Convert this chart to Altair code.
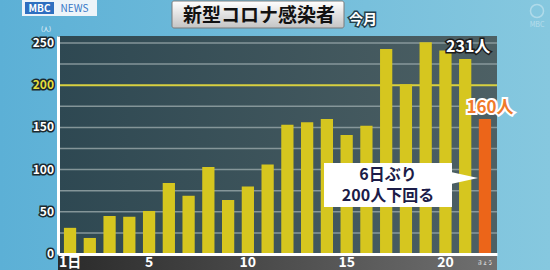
import altair as alt
import pandas as pd

# ---- data ----
days = [1, 2, 3, 4, 5, 6, 7, 8, 9, 10, 11, 12, 13, 14, 15, 16, 17, 18, 19, 20, 21, 22]
cases = [31, 19, 45, 44, 51, 84, 69, 103, 64, 80, 106, 153, 156, 160, 141, 152, 243, 201, 251, 241, 231, 160]
kinds = ["past"] * 21 + ["today"]
y_ticks = [0, 50, 100, 150, 200, 250]
grid_vals = [25, 50, 75, 100, 125, 150, 175, 225, 250]
highlight_val = [200]
title_text = "新型コロナ感染者"
subtitle_text = "今月"
note_lines = ["6日ぶり", "200人下回る"]

FONT = "Noto Sans CJK JP"
YELLOW = "#d6c61f"
ORANGE = "#ec6519"
W, H = 439, 218
YMAX = 258.3

df = pd.DataFrame({"day": days, "cases": cases, "kind": kinds})
one = pd.DataFrame({"a": [0]})

xscale = alt.Scale(paddingInner=0.38, paddingOuter=0.30)
yscale = alt.Scale(domain=[0, YMAX], nice=False)


def grad(c1, c2, vertical=False):
    return alt.Gradient(
        gradient="linear",
        stops=[alt.GradientStop(color=c1, offset=0), alt.GradientStop(color=c2, offset=1)],
        x1=0, x2=0 if vertical else 1, y1=0, y2=1 if vertical else 0,
    )


def pix_rect(x, x2, y, y2, **kw):
    return alt.Chart(one).mark_rect(**kw).encode(
        x=alt.value(x), x2=alt.value(x2), y=alt.value(y), y2=alt.value(y2))


def pix_text(x, y, text, **kw):
    return alt.Chart(one).mark_text(text=text, font=FONT, **kw).encode(
        x=alt.value(x), y=alt.value(y))


# backgrounds
page_bg = pix_rect(-58, 492, -36, 234, color=grad("#5cb0d6", "#86c8df"))
plot_bg = pix_rect(0, W, 0, H, color=grad("#2e4852", "#4d6064"))
xband = pix_rect(0, W, 219, 236, color=grad("#2a2a2a", "#707070"))

grid = alt.Chart(pd.DataFrame({"v": grid_vals})).mark_rule(
    color="#93a2a4", strokeWidth=1.5, opacity=0.85).encode(
    y=alt.Y("v:Q", scale=yscale), x=alt.value(0), x2=alt.value(W))
hline = alt.Chart(pd.DataFrame({"v": highlight_val})).mark_rule(
    color="#d8d040", strokeWidth=2).encode(
    y=alt.Y("v:Q", scale=yscale), x=alt.value(0), x2=alt.value(W))

bars = alt.Chart(df).mark_bar().encode(
    x=alt.X("day:O", scale=xscale, title=None,
            axis=alt.Axis(labelExpr="datum.value == 1 ? '1日' : (datum.value % 5 == 0 ? '' + datum.value : '')",
                          labelColor="white", labelFontSize=14, labelFont=FONT, labelFontWeight="bold",
                          ticks=False, domainColor="white", domainWidth=3, labelPadding=1,
                          labelAngle=0, zindex=1)),
    y=alt.Y("cases:Q", scale=yscale, title=None,
            axis=alt.Axis(labels=False, ticks=False, grid=False, domainColor="white",
                          domainWidth=3, zindex=1)),
    color=alt.Color("kind:N", scale=alt.Scale(domain=["past", "today"], range=[YELLOW, ORANGE]),
                    legend=None),
)

# value labels on last two bars
peak = df[df["day"] == 21]
today = df[df["day"] == 22]
peak_lbl = peak.assign(label=[f"{v}人" for v in peak["cases"]])
today_lbl = today.assign(label=[f"{v}人" for v in today["cases"]])

peak_stroke = alt.Chart(peak_lbl).mark_text(font=FONT, fontSize=16, fontWeight="bold", dy=-12, dx=3,
                                            stroke="#1a1a1a", strokeWidth=3, fill="#1a1a1a").encode(
    x="day:O", y="cases:Q", text="label:N")
peak_fill = alt.Chart(peak_lbl).mark_text(font=FONT, fontSize=16, fontWeight="bold", dy=-12, dx=3,
                                          fill="white").encode(x="day:O", y="cases:Q", text="label:N")
today_stroke = alt.Chart(today_lbl).mark_text(font=FONT, fontSize=17, fontWeight="bold", dy=-11, dx=5,
                                              stroke="white", strokeWidth=4, fill="white").encode(
    x="day:O", y="cases:Q", text="label:N")
today_fill = alt.Chart(today_lbl).mark_text(font=FONT, fontSize=17, fontWeight="bold", dy=-11, dx=5,
                                            fill="#f07a2a").encode(x="day:O", y="cases:Q", text="label:N")

# y tick labels with outline
tick_df = pd.DataFrame({"v": y_ticks})
ytl_stroke = alt.Chart(tick_df).mark_text(font=FONT, fontSize=12, fontWeight="bold", align="right",
                                          baseline="middle", dx=-4, stroke="#1c2a30", strokeWidth=3,
                                          fill="#1c2a30").encode(
    y=alt.Y("v:Q", scale=yscale), x=alt.value(0), text="v:Q")
ytl_fill = alt.Chart(tick_df).mark_text(font=FONT, fontSize=12, fontWeight="bold", align="right",
                                        baseline="middle", dx=-4).encode(
    y=alt.Y("v:Q", scale=yscale), x=alt.value(0), text="v:Q",
    color=alt.condition("datum.v == 200", alt.value("#e6de3c"), alt.value("white")))
unit = pix_text(-12, -7.5, "(人)", fontSize=6, color="white", baseline="middle")

# title box
title_box = pix_rect(114, 286, -35, -8, color=grad("#ffffff", "#c4c4c4", vertical=True),
                     stroke="#7a7a7a", strokeWidth=1, cornerRadius=2)
title = pix_text(201, -20.5, title_text, fontSize=19, fontWeight="bold", color="#111111", baseline="middle")
sub_stroke = pix_text(305, -16, subtitle_text, fontSize=14, fontWeight="bold", baseline="middle",
                      stroke="#24404c", strokeWidth=3, fill="#24404c")
sub_fill = pix_text(305, -16, subtitle_text, fontSize=14, fontWeight="bold", baseline="middle", color="white")

# MBC NEWS logo
logo_bg = pix_rect(-36, 39, -36, -20, color="#f4f8fb", opacity=0.95)
logo_blue = pix_rect(-33, -4, -34, -22, color="#2f6fc0")
logo_mbc = pix_text(-18.5, -27.5, "MBC", fontSize=10, fontWeight="bold", color="white", baseline="middle")
logo_news = pix_text(16.5, -27.5, "NEWS", fontSize=10, color="#3576c6", baseline="middle")

# watermark
wm_circle = alt.Chart(one).mark_point(size=170, color="white", opacity=0.35, strokeWidth=1.5).encode(
    x=alt.value(479), y=alt.value(-25))
wm_text = pix_text(479, -11, "MBC", fontSize=7, color="white", opacity=0.4, baseline="middle")

# callout
note_box = pix_rect(266, 394, 127, 171, color="white")
pointer = alt.Chart(one).mark_point(shape="M -1 -0.45 L 1 0 L -1 0.45 Z", size=676, filled=True,
                                    color="white", opacity=1).encode(x=alt.value(407), y=alt.value(142))
note1 = pix_text(330, 138.5, note_lines[0], fontSize=16, fontWeight="bold", color="#1c1c48", baseline="middle")
note2 = pix_text(330, 160, note_lines[1], fontSize=16, fontWeight="bold", color="#1c1c48", baseline="middle")

today_tick = alt.Chart(today).mark_text(text="きょう", font=FONT, fontSize=5,
                                        color="white", baseline="middle").encode(
    x="day:O", y=alt.value(226))

chart = alt.layer(
    page_bg, plot_bg, xband, grid, hline, bars,
    peak_stroke, peak_fill, today_stroke, today_fill,
    ytl_stroke, ytl_fill, unit,
    title_box, title, sub_stroke, sub_fill,
    logo_bg, logo_blue, logo_mbc, logo_news,
    wm_circle, wm_text,
    note_box, pointer, note1, note2, today_tick,
).properties(
    width=W, height=H,
    autosize=alt.AutoSizeParams(type="none"),
    padding={"left": 58, "top": 36, "right": 53, "bottom": 16},
    background="#6ab8d8",
).configure_view(stroke=None)

chart.save("out.html", embed_options={"renderer": "svg", "actions": False})
